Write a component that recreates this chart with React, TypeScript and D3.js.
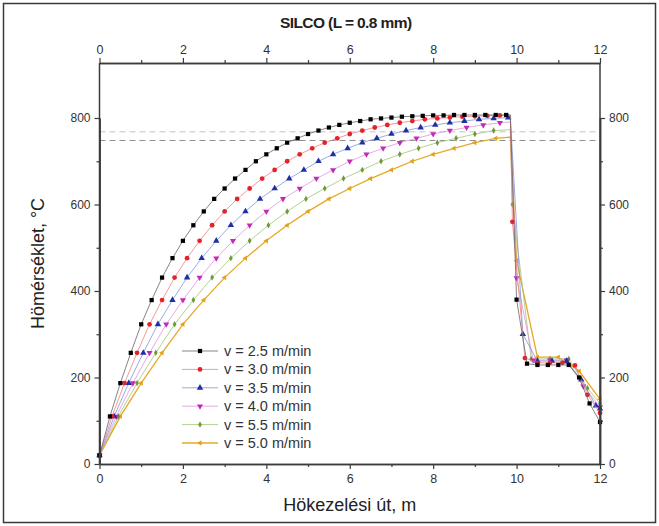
import React, {Component} from 'react';
import * as d3 from "d3";

// temperature at each 0.1 min time step while in the furnace (same for every speed)
const heatTemps = [20, 110, 187, 257, 323, 379, 431, 476, 516, 552, 584, 613, 637, 660, 680, 700, 716, 730, 743, 753,
    763, 771, 778, 784, 789, 793, 797, 799, 801, 803, 804, 805, 806, 806, 807, 807, 807, 807, 807, 807];
const timeStep = 0.1; // min
const speeds = [2.5, 3.0, 3.5, 4.0, 4.5, 5.0]; // m/min
const legendLabels = ["v = 2.5 m/min", "v = 3.0 m/min", "v = 3.5 m/min", "v = 4.0 m/min", "v = 5.5 m/min", "v = 5.0 m/min"];
const furnaceEnd = 9.85; // m
const exitTemps = [807, 806, 801, 791, 773, 756];

// points after leaving the furnace
const coolX = [
    [10.0, 10.25, 10.5, 10.75, 11.0, 11.25, 11.5, 11.75, 12.0],
    [9.9, 10.2, 10.5, 10.8, 11.1, 11.4, 11.7, 12.0],
    [10.15, 10.5, 10.85, 11.2, 11.55, 11.9, 12.0],
    [10.0, 10.4, 10.8, 11.2, 11.6, 12.0],
    [9.9, 10.35, 10.8, 11.25, 11.7, 12.0],
    [10.0, 10.5, 11.0, 11.5, 12.0],
];
const coolT = [
    [380, 232, 229, 229, 229, 229, 200, 140, 97],
    [560, 245, 234, 234, 234, 228, 160, 118],
    [300, 238, 238, 238, 195, 135, 128],
    [430, 240, 240, 240, 180, 132],
    [600, 243, 243, 243, 175, 140],
    [470, 247, 247, 215, 150],
];

const refLines = [768, 748];
const xTicks = [0, 2, 4, 6, 8, 10, 12];
const xMinor = [1, 3, 5, 7, 9, 11];
const yTicks = [0, 200, 400, 600, 800];
const yMinor = [100, 300, 500, 700];

const colors = ["#000000", "#e3222b", "#1f2fa8", "#c42ab8", "#6f9a34", "#e3a21a"];
const lineColors = ["#666666", "#f08080", "#8096dc", "#e294da", "#a2c47a", "#e6a828"];
const symbols = [d3.symbolSquare, d3.symbolCircle, d3.symbolTriangle, d3.symbolTriangle, d3.symbolDiamond, d3.symbolTriangle];
const symbolRotate = [0, 0, 0, 180, 0, -90];
const symbolSize = [18, 18, 18, 16, 12, 12];

const font = "'Liberation Sans', Arial, sans-serif";

class App extends Component {
    svgRef = React.createRef<SVGSVGElement>();

    componentDidMount() {
        this.drawChart();
    }

    drawChart() {
        const svg = d3.select(this.svgRef.current);
        svg.selectAll("*").remove();

        const W = 659, H = 526;
        const plot = {left: 99.5, right: 600, top: 63, bottom: 464};

        svg.append("rect")
            .attr("x", 3.5).attr("y", 3.5)
            .attr("width", W - 7).attr("height", H - 7)
            .attr("fill", "#fff")
            .attr("stroke", "#3a3a3a")
            .attr("stroke-width", 1.5);

        const x = d3.scaleLinear().domain([0, 12]).range([plot.left, plot.right]);
        const y = d3.scaleLinear().domain([0, 800]).range([plot.bottom, 118]);

        //dashed reference lines
        svg.selectAll(".ref")
            .data(refLines)
            .enter()
            .append("line")
            .attr("x1", x(0)).attr("x2", x(12))
            .attr("y1", d => y(d)).attr("y2", d => y(d))
            .attr("stroke", (d, i) => i === 0 ? "#c4c4c4" : "#8f8f8f")
            .attr("stroke-width", 1)
            .attr("stroke-dasharray", "6,4");

        // build each series: furnace points, exit point, cooling points
        const series = speeds.map((v, s) => {
            const pts: [number, number][] = [];
            heatTemps.forEach((t, i) => {
                const pos = i * timeStep * v;
                if (pos <= furnaceEnd) pts.push([pos, t]);
            });
            const exit: [number, number] = [furnaceEnd, exitTemps[s]];
            const cool = coolX[s].map((cx, j) => [cx, coolT[s][j]] as [number, number]);
            return {markers: pts.concat(cool), line: pts.concat([exit], cool)};
        });

        const line = d3.line<[number, number]>()
            .x(d => x(d[0]))
            .y(d => y(d[1]));

        // draw slowest last so it sits on top
        for (let s = series.length - 1; s >= 0; s--) {
            svg.append("path")
                .attr("d", line(series[s].line))
                .attr("fill", "none")
                .attr("stroke", lineColors[s])
                .attr("stroke-width", s === 5 ? 1.3 : 0.8);

            const sym = d3.symbol().type(symbols[s]).size(symbolSize[s]);
            svg.append("g")
                .selectAll("path")
                .data(series[s].markers)
                .enter()
                .append("path")
                .attr("d", sym)
                .attr("transform", d => "translate(" + x(d[0]) + "," + y(d[1]) + ") rotate(" + symbolRotate[s] + ")")
                .attr("fill", colors[s]);
        }

        //axes
        const styleAxis = (g, size) => {
            g.select(".domain").attr("stroke", "#3c3c3c").attr("stroke-width", 1.5);
            g.selectAll(".tick line").attr("stroke", "#3c3c3c").attr("stroke-width", 1.2);
            g.selectAll("text").attr("font-family", font).attr("font-size", size).attr("fill", "#333");
        };

        const bottom = svg.append("g").attr("transform", "translate(0," + plot.bottom + ")")
            .call(d3.axisBottom(x).tickValues(xTicks).tickSize(5).tickSizeOuter(0).tickPadding(5));
        styleAxis(bottom, 12.5);
        const bottomMinor = svg.append("g").attr("transform", "translate(0," + plot.bottom + ")")
            .call(d3.axisBottom(x).tickValues(xMinor).tickSize(3).tickSizeOuter(0).tickFormat(() => ""));
        styleAxis(bottomMinor, 12);

        const top = svg.append("g").attr("transform", "translate(0," + plot.top + ")")
            .call(d3.axisTop(x).tickValues(xTicks).tickSize(5).tickSizeOuter(0).tickPadding(4));
        styleAxis(top, 12.5);
        const topMinor = svg.append("g").attr("transform", "translate(0," + plot.top + ")")
            .call(d3.axisTop(x).tickValues(xMinor).tickSize(3).tickSizeOuter(0).tickFormat(() => ""));
        styleAxis(topMinor, 12);

        // vertical axis lines span the whole plot box
        const yBox = d3.scaleLinear().domain([0, 1]).range([plot.bottom, plot.top]);
        [plot.left, plot.right].forEach(px => {
            svg.append("line")
                .attr("x1", px).attr("x2", px)
                .attr("y1", yBox(0)).attr("y2", yBox(1))
                .attr("stroke", "#3c3c3c").attr("stroke-width", 1.5);
        });

        const left = svg.append("g").attr("transform", "translate(" + plot.left + ",0)")
            .call(d3.axisLeft(y).tickValues(yTicks).tickSize(5).tickSizeOuter(0).tickPadding(4));
        styleAxis(left, 12);
        const leftMinor = svg.append("g").attr("transform", "translate(" + plot.left + ",0)")
            .call(d3.axisLeft(y).tickValues(yMinor).tickSize(3).tickSizeOuter(0).tickFormat(() => ""));
        styleAxis(leftMinor, 12);

        const right = svg.append("g").attr("transform", "translate(" + plot.right + ",0)")
            .call(d3.axisRight(y).tickValues(yTicks).tickSize(5).tickSizeOuter(0).tickPadding(4));
        styleAxis(right, 12);
        const rightMinor = svg.append("g").attr("transform", "translate(" + plot.right + ",0)")
            .call(d3.axisRight(y).tickValues(yMinor).tickSize(3).tickSizeOuter(0).tickFormat(() => ""));
        styleAxis(rightMinor, 12);

        //titles
        svg.append("text")
            .attr("x", (plot.left + plot.right) / 2 - 4).attr("y", 28)
            .attr("text-anchor", "middle")
            .attr("font-family", font).attr("font-size", 15.5).attr("font-weight", "bold")
            .attr("letter-spacing", -0.6)
            .attr("fill", "#222")
            .text("SILCO (L = 0.8 mm)");

        svg.append("text")
            .attr("x", (plot.left + plot.right) / 2).attr("y", 511)
            .attr("text-anchor", "middle")
            .attr("font-family", font).attr("font-size", 18)
            .attr("fill", "#222")
            .text("Hökezelési út, m");

        svg.append("text")
            .attr("transform", "translate(44," + (plot.bottom + plot.top) / 2 + ") rotate(-90)")
            .attr("text-anchor", "middle")
            .attr("font-family", font).attr("font-size", 18)
            .attr("fill", "#222")
            .text("Hömérséklet, °C");

        //legend
        const legend = svg.append("g").attr("transform", "translate(182,351)");
        legendLabels.forEach((label, s) => {
            const row = legend.append("g").attr("transform", "translate(0," + s * 18.4 + ")");
            row.append("line")
                .attr("x1", 0).attr("x2", 36)
                .attr("stroke", lineColors[s])
                .attr("stroke-width", s === 5 ? 1.3 : 0.8);
            row.append("path")
                .attr("d", d3.symbol().type(symbols[s]).size(symbolSize[s])())
                .attr("transform", "translate(18,0) rotate(" + symbolRotate[s] + ")")
                .attr("fill", colors[s]);
            row.append("text")
                .attr("x", 42).attr("y", 5)
                .attr("font-family", font).attr("font-size", 14.5)
                .attr("fill", "#333")
                .text(label);
        });
    }

    render() {
        return (
            <div style={{position: "absolute", left: 0, top: 0}}>
                <svg ref={this.svgRef} width={659} height={526}></svg>
            </div>
        );
    }
}

export default App;
